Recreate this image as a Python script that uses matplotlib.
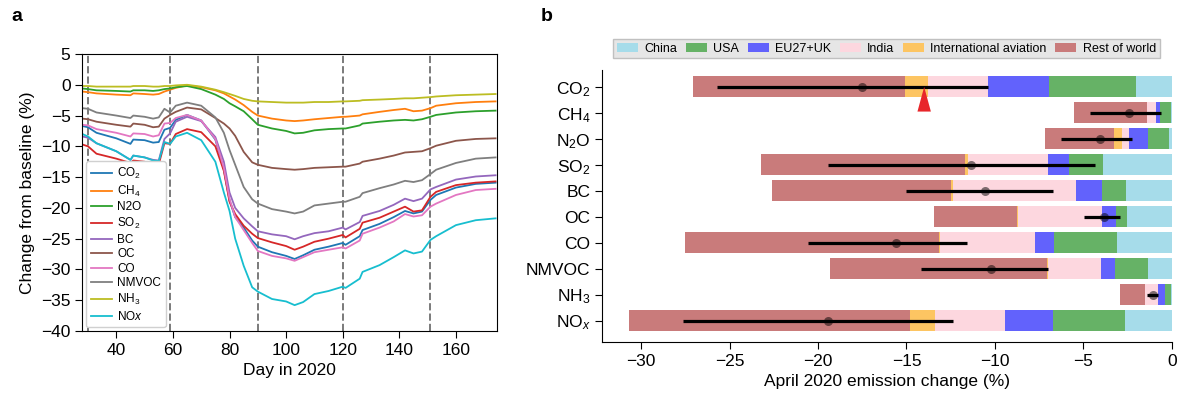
import matplotlib
matplotlib.use("Agg")
from matplotlib import pyplot as plt

plt.rcParams["font.family"] = ["Liberation Sans", "DejaVu Sans"]
plt.rcParams["mathtext.fontset"] = "custom"
plt.rcParams["mathtext.rm"] = "Liberation Sans"
plt.rcParams["mathtext.it"] = "Liberation Sans:italic"

# ---- panel a: daily change from baseline (%) ----
days = [28, 30, 33, 40, 45, 46, 50, 53, 55, 57, 59, 61, 65, 70, 75, 78, 80, 82, 85, 88,
        90, 95, 100, 103, 106, 110, 115, 120, 121, 126, 127, 133, 138, 142, 145, 148,
        151, 153, 160, 167, 174]

co2 = [-6.7, -6.9, -7.8, -8.7, -9.6, -8.9, -9.0, -9.4, -9.3, -7.3, -7.0, -5.7, -4.9, -5.8,
       -8.9, -13.8, -18.8, -21.5, -23.2, -25.3, -26.3, -27.2, -27.8, -28.3, -27.7, -26.8,
       -26.3, -25.7, -26.0, -24.6, -23.6, -22.6, -21.5, -20.5, -20.9, -20.6, -18.7, -17.9,
       -16.7, -16.1, -15.9]
ch4 = [-1.1, -1.2, -1.4, -1.6, -1.7, -1.4, -1.5, -1.6, -1.5, -1.1, -0.8, -0.5, -0.1, -0.4,
       -0.9, -1.4, -1.9, -2.4, -3.3, -4.4, -5.0, -5.5, -5.8, -5.9, -5.8, -5.6, -5.4, -5.2,
       -5.2, -5.0, -4.8, -4.4, -4.1, -3.9, -4.3, -4.2, -3.8, -3.4, -3.0, -2.8, -2.7]
n2o = [-0.6, -0.7, -0.9, -1.0, -1.1, -0.9, -0.9, -1.0, -0.9, -0.7, -0.6, -0.4, -0.2, -0.7,
       -1.6, -2.3, -3.0, -3.5, -4.3, -5.6, -6.5, -7.1, -7.5, -7.9, -7.8, -7.4, -7.2, -7.1,
       -7.1, -6.6, -6.3, -6.0, -5.8, -5.7, -5.8, -5.6, -5.2, -4.9, -4.5, -4.3, -4.2]
so2 = [-9.7, -10.0, -11.2, -12.0, -12.7, -12.3, -12.5, -13.0, -12.9, -9.5, -9.6, -8.0, -7.2,
       -7.7, -10.0, -14.0, -19.0, -21.0, -22.9, -24.2, -24.9, -25.6, -26.2, -26.8, -26.3,
       -25.5, -25.0, -24.4, -24.8, -23.4, -22.4, -21.6, -20.6, -19.8, -20.6, -20.4, -18.2,
       -17.4, -16.3, -15.9, -15.7]
bc = [-8.4, -8.6, -9.5, -10.8, -12.2, -11.5, -11.8, -12.2, -12.3, -8.8, -7.9, -6.0, -5.2,
      -5.9, -8.5, -12.5, -17.5, -20.0, -21.7, -23.0, -23.8, -24.3, -24.6, -25.1, -24.6,
      -24.1, -23.8, -23.2, -23.5, -22.3, -21.3, -20.5, -19.5, -18.5, -18.9, -18.5, -17.0,
      -16.6, -15.4, -14.9, -14.7]
oc = [-5.5, -5.6, -6.0, -6.5, -6.8, -6.3, -6.5, -6.9, -6.8, -5.5, -4.9, -4.4, -3.7, -4.0,
      -5.4, -6.3, -7.1, -8.3, -10.9, -12.6, -13.0, -13.5, -13.7, -13.8, -13.7, -13.5, -13.4,
      -13.3, -13.3, -12.8, -12.5, -12.0, -11.5, -11.0, -10.9, -10.8, -10.3, -9.9, -9.1,
      -8.8, -8.7]
co = [-6.5, -6.6, -7.2, -7.8, -8.4, -7.9, -8.0, -8.4, -8.2, -6.3, -6.2, -5.4, -4.9, -5.8,
      -8.8, -13.5, -18.5, -21.5, -23.6, -25.7, -27.0, -27.8, -28.2, -28.6, -28.0, -27.2,
      -26.8, -26.4, -26.6, -25.3, -24.2, -23.2, -22.2, -21.0, -21.4, -21.2, -19.8, -19.3,
      -17.9, -17.1, -16.9]
nmvoc = [-3.8, -3.9, -4.5, -5.0, -5.4, -5.0, -5.2, -5.5, -5.3, -3.9, -4.5, -3.4, -2.9, -3.4,
         -5.3, -7.8, -10.6, -13.0, -16.6, -18.6, -19.3, -20.2, -20.6, -20.9, -20.6, -19.6,
         -19.3, -19.0, -19.0, -18.2, -17.6, -16.8, -16.2, -15.6, -15.8, -15.5, -14.5, -13.8,
         -12.7, -12.0, -11.8]
nh3 = [-0.2, -0.2, -0.3, -0.3, -0.3, -0.2, -0.2, -0.3, -0.3, -0.2, -0.2, -0.1, 0.0, -0.3,
       -0.8, -1.2, -1.5, -1.8, -2.3, -2.6, -2.7, -2.8, -2.9, -2.9, -2.9, -2.8, -2.8, -2.7,
       -2.7, -2.6, -2.5, -2.4, -2.3, -2.2, -2.2, -2.1, -2.0, -1.9, -1.7, -1.6, -1.5]
nox = [-8.0, -8.4, -9.5, -10.8, -12.2, -11.5, -11.8, -12.3, -12.4, -9.3, -9.6, -8.4, -7.8,
       -9.0, -12.5, -17.5, -20.5, -25.0, -29.4, -32.9, -33.6, -34.8, -35.2, -35.8, -35.3,
       -34.0, -33.5, -32.8, -33.0, -31.5, -30.4, -29.3, -28.0, -26.9, -27.4, -27.1, -25.2,
       -24.6, -22.8, -22.0, -21.7]

series_a = [co2, ch4, n2o, so2, bc, oc, co, nmvoc, nh3, nox]
labels_a = ["CO$_2$", "CH$_4$", "N2O", "SO$_2$", "BC", "OC", "CO", "NMVOC", "NH$_3$", "NO$x$"]
month_marks = [30, 59, 90, 120, 151]

# ---- panel b: April 2020 emission change (%) by region ----
species = ["CO$_2$", "CH$_4$", "N$_2$O", "SO$_2$", "BC", "OC", "CO", "NMVOC", "NH$_3$", "NO$_x$"]
regions = ["China", "USA", "EU27+UK", "India", "International aviation", "Rest of world"]
china = [-2.0, -0.07, -0.16, -3.89, -2.58, -2.51, -3.09, -1.34, -0.05, -2.65]
usa = [-4.96, -0.6, -1.2, -1.92, -1.34, -0.65, -3.57, -1.86, -0.36, -4.08]
eu = [-3.44, -0.23, -1.06, -1.19, -1.47, -0.76, -1.1, -0.8, -0.37, -2.69]
india = [-3.4, -0.48, -0.39, -4.52, -6.98, -4.77, -5.35, -3.0, -0.72, -3.97]
aviation = [-1.3, -0.04, -0.44, -0.16, -0.12, -0.04, -0.04, -0.07, 0.0, -1.4]
rest = [-12.0, -4.11, -3.92, -11.57, -10.14, -4.73, -14.38, -12.26, -1.43, -15.92]
total = [-17.5, -2.4, -4.06, -11.38, -10.55, -3.82, -15.58, -10.23, -1.08, -19.45]
low = [-25.7, -4.65, -6.27, -19.45, -15.02, -4.95, -20.55, -14.2, -1.38, -27.65]
high = [-10.4, -0.62, -2.24, -4.35, -6.73, -2.95, -11.57, -7.0, -0.78, -12.37]
marker_x = -14.0  # red triangle under the CO2 bar

region_colors = ["#a6dcea", "#66b266", "#6262fc", "#fdd7df", "#fdc562", "#c97b7b"]

fig = plt.figure(figsize=(11.78, 4.0), dpi=100)

# panel a
ax1 = fig.add_axes([0.0699, 0.1725, 0.352, 0.6925])
for vals, lab in zip(series_a, labels_a):
    ax1.plot(days, vals, lw=1.3, label=lab)
for d in month_marks:
    ax1.axvline(d, color="#7a7a7a", ls="--", lw=1.4, zorder=0)
ax1.set_xlim(28, 174.5)
ax1.set_ylim(-40, 5)
ax1.set_xticks([40, 60, 80, 100, 120, 140, 160])
ax1.set_yticks(range(5, -41, -5))
ax1.tick_params(labelsize=12.5, length=5)
ax1.set_xlabel("Day in 2020", fontsize=12.5)
ax1.set_ylabel("Change from baseline (%)", fontsize=12.5)
ax1.legend(loc="lower left", fontsize=8.5, labelspacing=0.22, handlelength=1.85,
           handletextpad=0.4, borderaxespad=0.3, borderpad=0.4, framealpha=1,
           edgecolor="#d0d0d0")

# panel b
ax2 = fig.add_axes([0.5113, 0.145, 0.4834, 0.68])
ypos = list(range(len(species)))
stack = [china, usa, eu, india, aviation, rest]
left = [0.0] * len(species)
for vals, name, col in zip(stack, regions, region_colors):
    ax2.barh(ypos, vals, left=left, height=0.81, color=col, label=name)
    left = [l + v for l, v in zip(left, vals)]
ax2.hlines(ypos, low, high, color="black", lw=2.3, zorder=3)
ax2.plot(total, ypos, "o", color="black", alpha=0.5, ms=6.5, mec="none", zorder=4)
ax2.fill([marker_x, marker_x - 0.38, marker_x + 0.38], [0.0, 0.95, 0.95],
         color="#e8262a", zorder=5, lw=0)
ax2.set_yticks(ypos)
ax2.set_yticklabels(species)
ax2.set_ylim(9.82, -0.65)
ax2.set_xlim(-32.2, 0)
ax2.set_xticks([-30, -25, -20, -15, -10, -5, 0])
ax2.tick_params(labelsize=12.5, length=5)
ax2.spines["top"].set_visible(False)
ax2.spines["right"].set_visible(False)
ax2.set_xlabel("April 2020 emission change (%)", fontsize=12.5)
fig.legend(*ax2.get_legend_handles_labels(), loc="center", ncol=6, mode="expand",
           bbox_to_anchor=(0.5153, 0.8525, 0.4745, 0.0525), fontsize=9,
           handlelength=1.7, handleheight=0.75, handletextpad=0.5, borderpad=0.3,
           fancybox=False, facecolor="#e6e6e6", edgecolor="#c0c0c0", framealpha=1)

fig.text(0.010, 0.9475, "a", fontsize=14, fontweight="bold")
fig.text(0.459, 0.9475, "b", fontsize=14, fontweight="bold")

fig.savefig("out.png", dpi=100)
